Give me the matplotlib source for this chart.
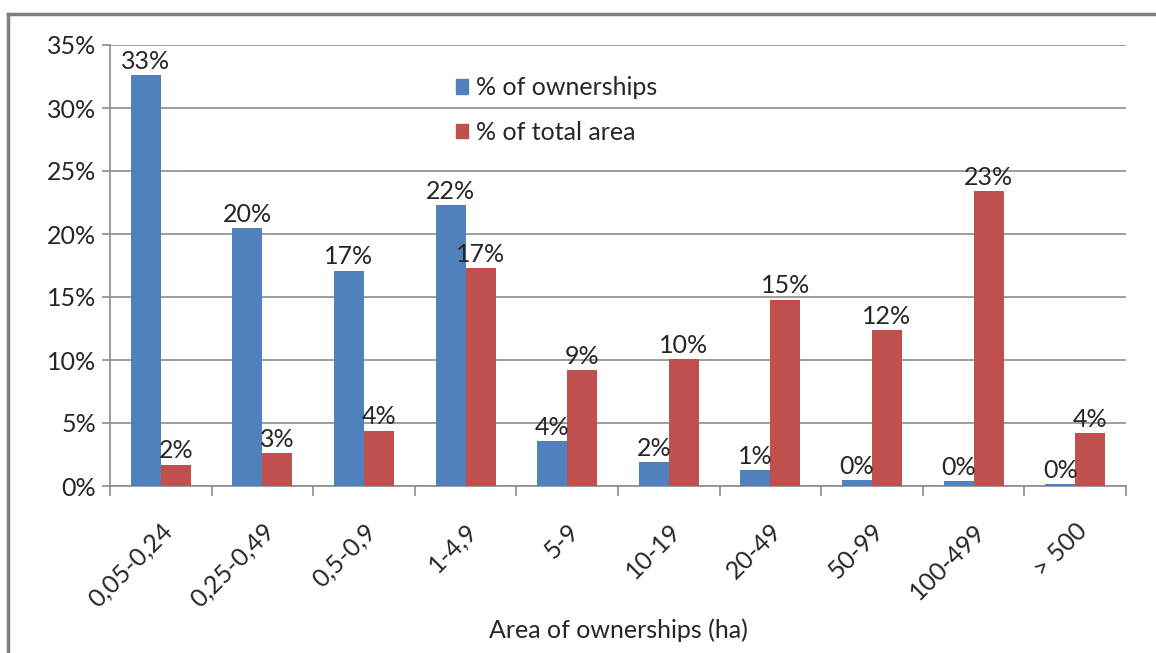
import matplotlib.pyplot as plt
import numpy as np
from matplotlib.lines import Line2D
from matplotlib.patches import Patch

plt.rcParams["font.family"] = ["Lato", "DejaVu Sans"]

categories = ["0,05-0,24", "0,25-0,49", "0,5-0,9", "1-4,9", "5-9",
              "10-19", "20-49", "50-99", "100-499", "> 500"]
pct_ownerships = [32.6, 20.5, 17.1, 22.3, 3.6, 1.9, 1.3, 0.45, 0.4, 0.15]
pct_total_area = [1.7, 2.6, 4.4, 17.3, 9.2, 10.1, 14.8, 12.4, 23.4, 4.2]
series_names = ["% of ownerships", "% of total area"]
y_ticks = [0, 5, 10, 15, 20, 25, 30, 35]

blue = "#4F81BD"
red = "#C0504D"
grid_color = "#8C8C8C"
text_color = "#262626"
fs = 18

fig = plt.figure(figsize=(11.56, 6.53), dpi=100)
ax = fig.add_axes([110 / 1156, 1 - 486 / 653, (1126 - 110) / 1156, (486 - 45) / 653])

x = np.arange(len(categories))
width = 0.295
bars_own = ax.bar(x - width / 2, pct_ownerships, width, color=blue, zorder=3)
bars_area = ax.bar(x + width / 2, pct_total_area, width, color=red, zorder=3)

for bars, values in ((bars_own, pct_ownerships), (bars_area, pct_total_area)):
    for bar, value in zip(bars, values):
        ax.annotate(f"{value:.0f}%",
                    (bar.get_x() + bar.get_width() / 2, bar.get_height()),
                    xytext=(0, 1.5), textcoords="offset points",
                    ha="center", va="bottom", fontsize=fs, color=text_color, zorder=4)

ax.set_xlim(-0.5, len(categories) - 0.5)
ax.set_ylim(0, 35)
ax.set_yticks(y_ticks)
ax.set_yticklabels([f"{t}%" for t in y_ticks], fontsize=fs, color=text_color)
ax.yaxis.grid(True, color=grid_color, linewidth=1.2, zorder=0)
ax.tick_params(axis="y", length=6, width=1.2, color=grid_color, pad=4)

ax.set_xticks(x)
ax.set_xticklabels(categories, rotation=45, ha="right", rotation_mode="anchor",
                   fontsize=fs, color=text_color)
ax.tick_params(axis="x", length=0, pad=24)
# boundary ticks between categories
ax.set_xticks(np.arange(len(categories) + 1) - 0.5, minor=True)
ax.tick_params(axis="x", which="minor", length=7, width=1.2, color=grid_color)

for side in ("top", "right"):
    ax.spines[side].set_visible(False)
for side in ("left", "bottom"):
    ax.spines[side].set_color(grid_color)
    ax.spines[side].set_linewidth(1.2)

ax.set_xlabel("Area of ownerships (ha)", fontsize=fs, color=text_color, labelpad=5)

handles = [Patch(color=blue), Patch(color=red)]
ax.legend(handles, series_names, loc="upper left", bbox_to_anchor=(0.318, 0.98),
          frameon=False, fontsize=fs, handlelength=0.5, handleheight=0.5,
          handletextpad=0.3, labelspacing=0.85, labelcolor=text_color)

# outer chart frame (top and left edges visible)
fig.add_artist(Line2D([8 / 1156, 8 / 1156], [0, 1 - 14 / 653],
                      transform=fig.transFigure, color="#7F7F7F", linewidth=2.5))
fig.add_artist(Line2D([8 / 1156, 1], [1 - 14 / 653, 1 - 14 / 653],
                      transform=fig.transFigure, color="#7F7F7F", linewidth=2.5))

fig.savefig("out.png", dpi=100)
